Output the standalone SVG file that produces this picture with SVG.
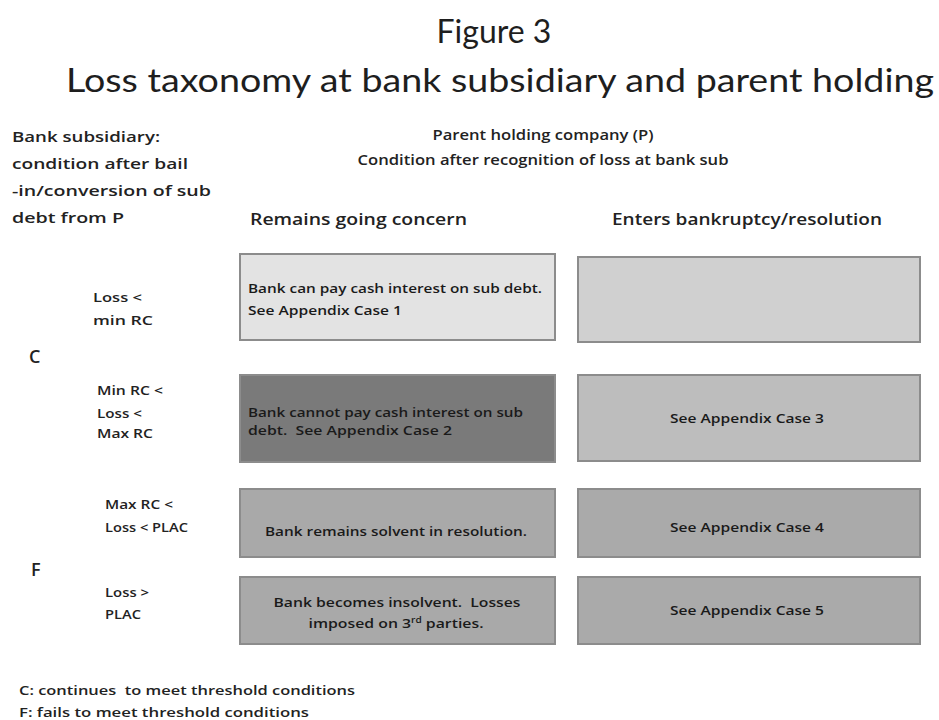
<svg xmlns="http://www.w3.org/2000/svg" width="939" height="720" viewBox="0 0 939 720">
<style>
  text { font-family: "Open Sans", "Liberation Sans", sans-serif; fill: #222222; font-weight: 600; }
  .title { font-family: Lato, "Open Sans", sans-serif; font-size: 32px; font-weight: normal; fill: #1e1e1e; }
  .hdr { font-size: 15px; }
  .col { font-size: 17px; }
  .lbl { font-size: 12.5px; }
  .big { font-size: 18px; }
  .box { font-size: 12.5px; fill: #1a1a1a; }
  .foot { font-size: 13px; }
  .mid { text-anchor: middle; }
  .cell { stroke: #8c8c8c; stroke-width: 2; }
</style>
<rect x="0" y="0" width="939" height="720" fill="#ffffff"/>
<text class="title mid" x="494" y="43">Figure 3</text>
<text class="title" x="66" y="92" textLength="868" lengthAdjust="spacingAndGlyphs">Loss taxonomy at bank subsidiary and parent holding</text>
<text class="hdr mid" x="543" y="140" textLength="221" lengthAdjust="spacingAndGlyphs">Parent holding company (P)</text>
<text class="hdr mid" x="543" y="165" textLength="371" lengthAdjust="spacingAndGlyphs">Condition after recognition of loss at bank sub</text>
<g id="rowheader">
  <text class="hdr" x="12" y="142" textLength="148" lengthAdjust="spacingAndGlyphs">Bank subsidiary:</text>
  <text class="hdr" x="12" y="169" textLength="176" lengthAdjust="spacingAndGlyphs">condition after bail</text>
  <text class="hdr" x="12" y="196" textLength="199" lengthAdjust="spacingAndGlyphs">-in/conversion of sub</text>
  <text class="hdr" x="12" y="223" textLength="112" lengthAdjust="spacingAndGlyphs">debt from P</text>
</g>
<text class="col" x="250" y="225" textLength="217" lengthAdjust="spacingAndGlyphs">Remains going concern</text>
<text class="col" x="612" y="225" textLength="270" lengthAdjust="spacingAndGlyphs">Enters bankruptcy/resolution</text>
<text class="lbl" x="93" y="302" textLength="49" lengthAdjust="spacingAndGlyphs">Loss &lt;</text>
<text class="lbl" x="93" y="325" textLength="60" lengthAdjust="spacingAndGlyphs">min RC</text>
<text class="big" x="29" y="363">C</text>
<text class="lbl" x="97" y="395" textLength="66" lengthAdjust="spacingAndGlyphs">Min RC &lt;</text>
<text class="lbl" x="97" y="418" textLength="45" lengthAdjust="spacingAndGlyphs">Loss &lt;</text>
<text class="lbl" x="97" y="438" textLength="56" lengthAdjust="spacingAndGlyphs">Max RC</text>
<text class="lbl" x="105" y="509" textLength="68" lengthAdjust="spacingAndGlyphs">Max RC &lt;</text>
<text class="lbl" x="105" y="532" textLength="83" lengthAdjust="spacingAndGlyphs">Loss &lt; PLAC</text>
<text class="big" x="31" y="576">F</text>
<text class="lbl" x="105" y="597" textLength="44" lengthAdjust="spacingAndGlyphs">Loss &gt;</text>
<text class="lbl" x="105" y="619" textLength="36" lengthAdjust="spacingAndGlyphs">PLAC</text>
<g id="case1">
  <rect class="cell" x="240" y="254" width="315" height="86" fill="#e3e3e3"/>
  <text class="box" x="248" y="293" textLength="294" lengthAdjust="spacingAndGlyphs">Bank can pay cash interest on sub debt.</text>
  <text class="box" x="248" y="315" textLength="154" lengthAdjust="spacingAndGlyphs">See Appendix Case 1</text>
</g>
<g id="blank">
  <rect class="cell" x="578" y="257" width="342" height="85" fill="#d0d0d0"/>
</g>
<g id="case2">
  <rect class="cell" x="240" y="375" width="315" height="87" fill="#7a7a7a"/>
  <text class="box" x="248" y="417" textLength="275" lengthAdjust="spacingAndGlyphs">Bank cannot pay cash interest on sub</text>
  <text class="box" x="248" y="435" xml:space="preserve" textLength="204" lengthAdjust="spacingAndGlyphs">debt.  See Appendix Case 2</text>
</g>
<g id="case3">
  <rect class="cell" x="578" y="375" width="342" height="86" fill="#bdbdbd"/>
  <text class="box mid" x="747" y="423" textLength="154" lengthAdjust="spacingAndGlyphs">See Appendix Case 3</text>
</g>
<g id="solvent">
  <rect class="cell" x="240" y="489" width="315" height="68" fill="#a9a9a9"/>
  <text class="box mid" x="396" y="536" textLength="262" lengthAdjust="spacingAndGlyphs">Bank remains solvent in resolution.</text>
</g>
<g id="case4">
  <rect class="cell" x="578" y="489" width="342" height="68" fill="#aaaaaa"/>
  <text class="box mid" x="747" y="532" textLength="154" lengthAdjust="spacingAndGlyphs">See Appendix Case 4</text>
</g>
<g id="insolvent">
  <rect class="cell" x="240" y="577" width="315" height="67" fill="#a9a9a9"/>
  <text class="box mid" x="397" y="607" xml:space="preserve" textLength="247" lengthAdjust="spacingAndGlyphs">Bank becomes insolvent.  Losses</text>
  <text class="box mid" x="396" y="628" textLength="175" lengthAdjust="spacingAndGlyphs">imposed on 3<tspan font-size="8" dy="-5">rd</tspan><tspan dy="5"> parties.</tspan></text>
</g>
<g id="case5">
  <rect class="cell" x="578" y="577" width="342" height="67" fill="#aaaaaa"/>
  <text class="box mid" x="747" y="615" textLength="154" lengthAdjust="spacingAndGlyphs">See Appendix Case 5</text>
</g>
<g id="connectors"></g>
<text class="foot" x="19" y="695" xml:space="preserve" textLength="336" lengthAdjust="spacingAndGlyphs">C: continues  to meet threshold conditions</text>
<text class="foot" x="19" y="717" textLength="290" lengthAdjust="spacingAndGlyphs">F: fails to meet threshold conditions</text>
</svg>
